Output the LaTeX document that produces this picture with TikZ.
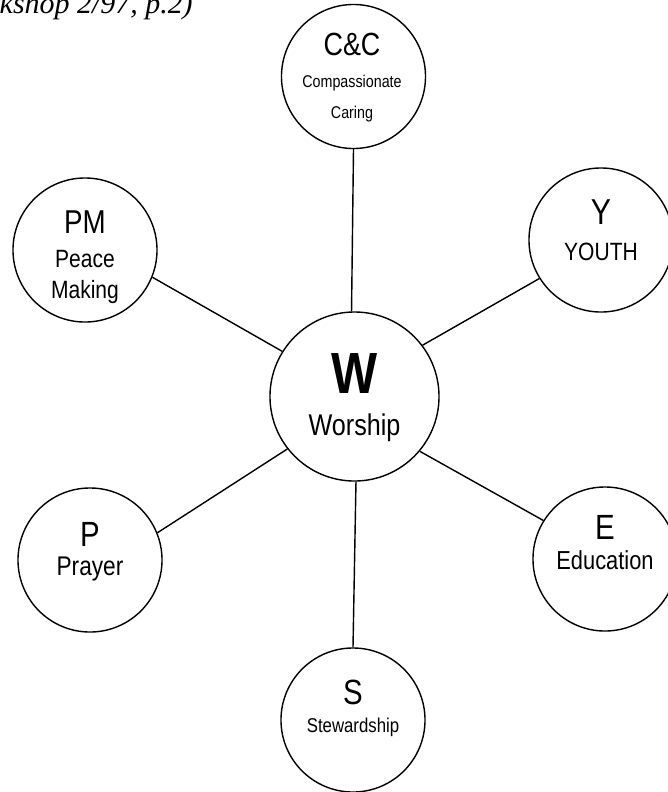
\documentclass[tikz,border=0pt]{standalone}
\usepackage{fontspec}
\setmainfont{Liberation Sans}[FakeStretch=0.84]
\newfontfamily\notefont{Liberation Serif}
\tikzset{
  ring/.style={draw, circle, line width=1pt, inner sep=0pt, minimum size=#1},
  spoke/.style={line width=1pt},
  lbl/.style={anchor=base, inner sep=0pt, font=\fontsize{#1}{#1}\selectfont},
}

\begin{document}
\begin{tikzpicture}[x=0.025cm, y=-0.025cm]
    \useasboundingbox (0,0) rectangle (667,792);
    \node[anchor=base east, inner sep=0pt, font=\notefont\itshape\fontsize{21.3}{21.3}\selectfont] (note) at (193,13) {(Workshop 2/97, p.2)};
    \node[ring=4.225cm] (W) at (354.5,396.5) {};
    \foreach \n/\x/\y/\a/\b in {CC/353.5/76.5/92/270, PM/85/250/148/338, Y/601/240/37/212,
                               P/90/560/218/22, E/605/559/320/148, S/353/720/271/90} {
      \node[ring=3.6cm] (\n) at (\x,\y) {};
      \draw[spoke] (W.\a) -- (\n.\b);
    }
    \foreach \n/\x/\y/\s/\t in {
        W-a/354.5/393/41.3/\textbf{W}, W-b/354.5/435/21.3/Worship,
        CC-a/352/55/22.8/C\&C, CC-b/352/87/12.1/Compassionate, CC-c/352/118/12.1/Caring,
        PM-a/85/233/23.5/PM, PM-b/85/267/17.8/Peace, PM-c/85/298/17.8/Making,
        Y-a/601/224/25.6/Y, Y-b/601/260/17.8/YOUTH,
        P-a/90/546/24.9/P, P-b/90/575/19.2/Prayer,
        E-a/605/539/24.9/E, E-b/605/569/18.5/Education,
        S-a/353/704/24.9/S, S-b/353/732/14.2/Stewardship} {
      \node[lbl=\s] (\n) at (\x,\y) {\t};
    }
\end{tikzpicture}
\end{document}
